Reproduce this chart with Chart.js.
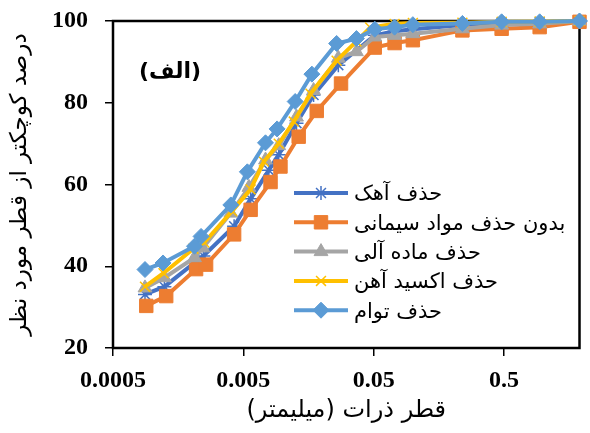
<!DOCTYPE html>
<html>
<head>
<meta charset="utf-8">
<script src="https://cdn.jsdelivr.net/npm/chart.js@4/dist/chart.umd.min.js"></script>
<style>
  html, body { margin: 0; padding: 0; background: #fff; }
  canvas { display: block; direction: rtl; }
</style>
</head>
<body>
<canvas id="c" width="590" height="433"></canvas>
<script>
// Particle-size distribution curves (diameter in mm, percent finer)
const seriesNames = ['حذف آهک', 'بدون حذف مواد سیمانی', 'حذف ماده آلی', 'حذف اکسید آهن', 'حذف توام'];

const limeSize = [0.00088, 0.00124, 0.00214, 0.00247, 0.00425, 0.00569, 0.00785, 0.00935, 0.0128, 0.0173, 0.0268, 0.051, 0.0724, 0.1, 0.24, 0.48, 0.94, 1.9];
const limePct  = [33.1, 35.0, 41.0, 42.5, 49.8, 56.5, 63.5, 67.3, 75.0, 81.9, 89.2, 96.5, 97.5, 98.0, 99.0, 99.5, 99.7, 100];

const untreatedSize = [0.0009, 0.00128, 0.00217, 0.00259, 0.00425, 0.00569, 0.00809, 0.00964, 0.0133, 0.0183, 0.0281, 0.051, 0.0724, 0.1, 0.24, 0.48, 0.94, 1.9];
const untreatedPct  = [30.3, 32.7, 39.3, 40.4, 47.8, 53.8, 60.6, 64.4, 71.7, 78.0, 84.7, 93.5, 94.6, 95.3, 97.7, 98.1, 98.5, 99.8];

const organicSize = [0.00088, 0.00124, 0.00211, 0.00244, 0.00401, 0.00552, 0.0074, 0.00935, 0.0128, 0.0173, 0.0268, 0.0369, 0.051, 0.0724, 0.1, 0.24, 0.48, 0.94, 1.9];
const organicPct  = [34.7, 37.2, 42.1, 44.5, 53.0, 59.3, 66.0, 69.5, 76.5, 83.0, 90.9, 92.5, 96.1, 96.5, 96.9, 98.1, 99.0, 99.3, 100];

const ironSize = [0.00088, 0.00122, 0.00207, 0.00251, 0.0041, 0.00569, 0.00719, 0.00935, 0.0122, 0.0164, 0.026, 0.0369, 0.047, 0.0724, 0.1, 0.24, 0.48, 0.94, 1.9];
const ironPct  = [35.0, 38.3, 44.3, 45.8, 53.5, 58.8, 65.6, 70.0, 75.4, 82.2, 90.3, 95.0, 98.4, 99.3, 99.5, 99.6, 99.8, 99.9, 100];

const combinedSize = [0.00088, 0.00121, 0.00211, 0.00237, 0.00401, 0.00537, 0.0074, 0.00908, 0.0125, 0.0168, 0.026, 0.0369, 0.051, 0.0724, 0.1, 0.24, 0.48, 0.94, 1.9];
const combinedPct  = [39.2, 40.8, 44.9, 47.3, 55.0, 63.1, 70.2, 73.6, 80.3, 87.0, 94.5, 95.7, 98.0, 98.5, 99.1, 99.4, 99.8, 99.8, 100];

const xTicks = [0.0005, 0.005, 0.05, 0.5];
const xTickLabels = ['0.0005', '0.005', '0.05', '0.5'];
const yTicks = [20, 40, 60, 80, 100];

const panelLabel = '(الف)';
const xTitle = 'قطر ذرات (میلیمتر)';
const yTitle = 'درصد کوچکتر از قطر مورد نظر';

const pairs = (xs, ys) => xs.map((x, i) => ({ x: x, y: ys[i] }));

const styles = [
  { color: '#4472C4', pointStyle: 'star',     radius: 7,   pointBorderWidth: 1.5, order: 4 },
  { color: '#ED7D31', pointStyle: 'rect',     radius: 9.5, pointBorderWidth: 1,   order: 3 },
  { color: '#A5A5A5', pointStyle: 'triangle', radius: 8,   pointBorderWidth: 1,   order: 2 },
  { color: '#FFC000', pointStyle: 'crossRot', radius: 7,   pointBorderWidth: 1.5, order: 1 },
  { color: '#5B9BD5', pointStyle: 'rectRot',  radius: 8,   pointBorderWidth: 1,   order: 0 }
];

const seriesData = [
  pairs(limeSize, limePct),
  pairs(untreatedSize, untreatedPct),
  pairs(organicSize, organicPct),
  pairs(ironSize, ironPct),
  pairs(combinedSize, combinedPct)
];

const datasets = seriesData.map((d, i) => ({
  label: seriesNames[i],
  data: d,
  borderColor: styles[i].color,
  backgroundColor: styles[i].color,
  borderWidth: 4,
  pointStyle: styles[i].pointStyle,
  pointRadius: styles[i].radius,
  pointBorderWidth: styles[i].pointBorderWidth,
  pointBackgroundColor: styles[i].color,
  pointBorderColor: styles[i].color,
  tension: 0,
  clip: false,
  order: styles[i].order
}));

const serifBold = '"Liberation Serif", "Times New Roman", "DejaVu Sans", serif';
const persianFont = '"DejaVu Sans", "Noto Sans", sans-serif';

// Plot frame drawn under the series, legend and panel label drawn on top
const framePlugin = {
  id: 'frame',
  beforeDatasetsDraw(chart) {
    const a = chart.chartArea, ctx = chart.ctx;
    ctx.save();
    ctx.strokeStyle = '#000';
    ctx.lineWidth = 2.5;
    ctx.strokeRect(a.left, a.top, a.right - a.left, a.bottom - a.top);
    ctx.restore();
  },
  afterDraw(chart) {
    const ctx = chart.ctx;
    ctx.save();
    ctx.direction = 'rtl';
    ctx.fillStyle = '#000';
    ctx.textBaseline = 'middle';
    ctx.textAlign = 'center';
    ctx.font = 'bold 22px ' + persianFont;
    ctx.fillText(panelLabel, 170, 72);

    // legend
    const x0 = 294, x1 = 348, tx = 354;
    chart.data.datasets.forEach((ds, i) => {
      const y = 193 + i * 29.3;
      ctx.strokeStyle = ds.borderColor;
      ctx.lineWidth = 4;
      ctx.beginPath();
      ctx.moveTo(x0, y);
      ctx.lineTo(x1, y);
      ctx.stroke();
      ctx.fillStyle = ds.pointBackgroundColor;
      ctx.strokeStyle = ds.pointBorderColor;
      ctx.lineWidth = ds.pointBorderWidth;
      Chart.helpers.drawPoint(ctx, {
        pointStyle: ds.pointStyle,
        radius: ds.pointRadius,
        borderWidth: ds.pointBorderWidth,
        rotation: 0
      }, (x0 + x1) / 2, y);
      ctx.fillStyle = '#000';
      ctx.textAlign = 'left';
      ctx.font = '21px ' + persianFont;
      ctx.fillText(ds.label, tx, y + 2);
    });
    ctx.restore();
  }
};

new Chart(document.getElementById('c'), {
  type: 'line',
  data: { datasets: datasets },
  options: {
    responsive: false,
    animation: false,
    devicePixelRatio: 1,
    layout: { padding: { top: 21, right: 7, left: 0, bottom: 0 } },
    plugins: { legend: { display: false }, tooltip: { enabled: false } },
    scales: {
      x: {
        type: 'logarithmic',
        min: 0.0005,
        max: 1.9,
        afterBuildTicks(scale) { scale.ticks = xTicks.map(v => ({ value: v })); },
        afterFit(scale) {
          scale.height = 85;
          scale.paddingLeft = 0;
          scale.paddingRight = 0;
        },
        ticks: {
          autoSkip: false,
          maxRotation: 0,
          padding: 10,
          color: '#000',
          font: { family: serifBold, size: 24, weight: 'bold' },
          callback: (v) => xTickLabels[xTicks.indexOf(v)] ?? ''
        },
        grid: { drawOnChartArea: false, drawTicks: true, tickLength: 8, color: '#000', lineWidth: 1.5 },
        border: { display: false },
        title: {
          display: true,
          text: xTitle,
          color: '#000',
          font: { family: persianFont, size: 24 },
          padding: { top: 0, bottom: 8 }
        }
      },
      y: {
        type: 'linear',
        min: 20,
        max: 100,
        afterBuildTicks(scale) { scale.ticks = yTicks.map(v => ({ value: v })); },
        afterFit(scale) {
          scale.width = 113;
          scale.paddingTop = 0;
          scale.paddingBottom = 0;
        },
        ticks: {
          padding: 17,
          color: '#000',
          font: { family: serifBold, size: 24, weight: 'bold' }
        },
        grid: { drawOnChartArea: false, drawTicks: true, tickLength: 8, color: '#000', lineWidth: 1.5 },
        border: { display: false },
        title: {
          display: true,
          text: yTitle,
          color: '#000',
          font: { family: persianFont, size: 23 },
          padding: { top: 6, bottom: 0 }
        }
      }
    }
  },
  plugins: [framePlugin]
});
</script>
</body>
</html>
